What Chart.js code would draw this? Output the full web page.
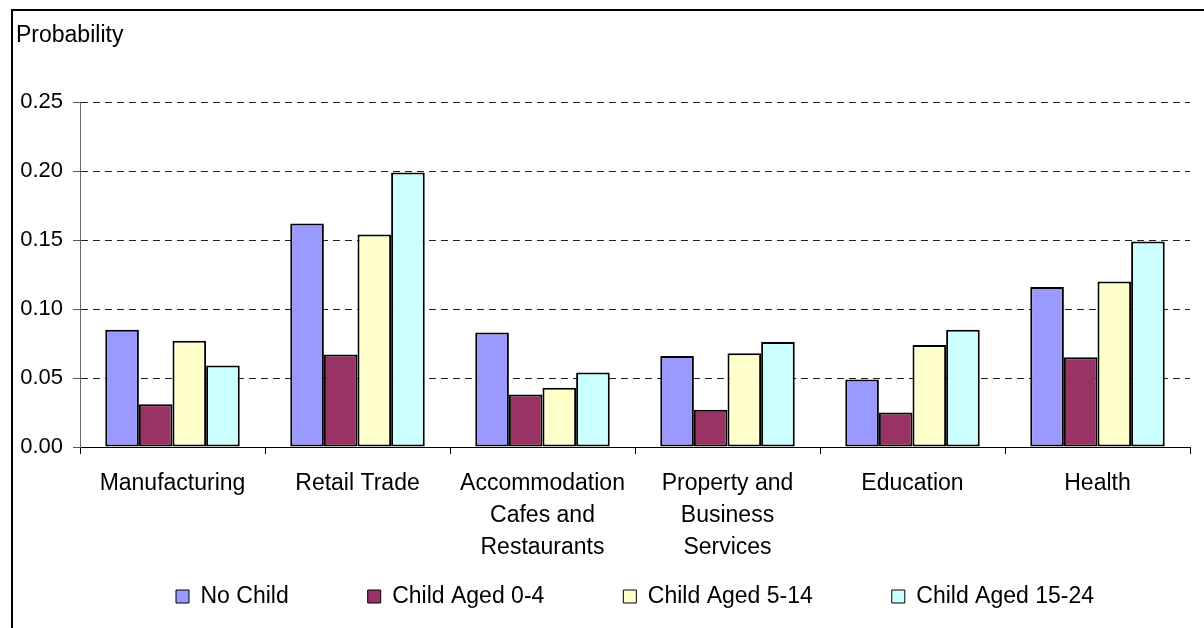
<!DOCTYPE html>
<html>
<head>
<meta charset="utf-8">
<script src="https://cdn.jsdelivr.net/npm/chart.js@4/dist/chart.umd.min.js"></script>
<style>
  html, body { margin: 0; padding: 0; background: #fff; overflow: hidden; }
  #wrap { position: relative; width: 1204px; height: 628px; }
</style>
</head>
<body>
<div id="wrap"><canvas id="c" width="1204" height="628"></canvas></div>
<script>
// Industries (multi-line labels) and probabilities by household type
const categories = [
  'Manufacturing',
  'Retail Trade',
  ['Accommodation', 'Cafes and', 'Restaurants'],
  ['Property and', 'Business', 'Services'],
  'Education',
  'Health'
];
const seriesNames = ['No Child', 'Child Aged 0-4', 'Child Aged 5-14', 'Child Aged 15-24'];
const noChild      = [0.085, 0.162, 0.083, 0.066, 0.049, 0.116];
const childAged0_4 = [0.031, 0.067, 0.038, 0.027, 0.025, 0.065];
const childAged5_14 = [0.077, 0.154, 0.043, 0.068, 0.074, 0.120];
const childAged15_24 = [0.059, 0.199, 0.054, 0.076, 0.085, 0.149];
const yTicks = [0, 0.05, 0.10, 0.15, 0.20, 0.25];
const yAxisTitle = 'Probability';

const fillColors = ['#9999FF', '#993366', '#FFFFCC', '#CCFFFF'];
const FONT = '"Liberation Sans", Arial, sans-serif';

// Frame around the whole chart and the axis caption in the top-left corner
const framePlugin = {
  id: 'frame',
  beforeDraw(chart) {
    const ctx = chart.ctx;
    ctx.save();
    ctx.fillStyle = '#fff';
    ctx.fillRect(0, 0, chart.width, chart.height);
    ctx.strokeStyle = '#000';
    ctx.lineWidth = 2;
    ctx.strokeRect(12, 10, 1400, 1000);
    ctx.restore();
  },
  afterDraw(chart) {
    const ctx = chart.ctx;
    ctx.save();
    ctx.fillStyle = '#000';
    ctx.font = '23px ' + FONT;
    ctx.textAlign = 'left';
    ctx.textBaseline = 'alphabetic';
    ctx.fillText(yAxisTitle, 16, 42);
    ctx.restore();
  }
};

// The legend uses wide label padding for horizontal spacing; keep its layout
// band short, then lift the box (and its clip area) back over the row.
const LEGEND_BAND = 54;
const LEGEND_LIFT = 59;
const legendBand = {
  id: 'legendBand',
  beforeLayout(chart) {
    const lg = chart.legend;
    if (lg && !lg.__bandFit) {
      const fit = lg.fit;
      lg.fit = function () { fit.call(this); this.height = LEGEND_BAND; };
      lg.__bandFit = true;
    }
  },
  afterLayout(chart) {
    const lg = chart.legend;
    if (lg) {
      lg.top -= LEGEND_LIFT;
      lg.bottom = chart.height;
      lg.height = lg.bottom - lg.top;
    }
  }
};

const seriesData = [noChild, childAged0_4, childAged5_14, childAged15_24];

new Chart(document.getElementById('c'), {
  type: 'bar',
  data: {
    labels: categories,
    datasets: seriesNames.map((name, i) => ({
      label: name,
      data: seriesData[i],
      backgroundColor: fillColors[i],
      borderColor: '#000',
      borderWidth: 2,
      borderSkipped: false,
      categoryPercentage: 0.727,
      barPercentage: 1.0
    }))
  },
  options: {
    responsive: false,
    animation: false,
    devicePixelRatio: 1,
    layout: { padding: { left: 0, right: 14, top: 102, bottom: 9 } },
    plugins: {
      tooltip: { enabled: false },
      legend: {
        position: 'bottom',
        fullSize: false,
        labels: {
          color: '#000',
          font: { family: FONT, size: 23 },
          boxWidth: 13,
          boxHeight: 13,
          padding: 79,
          generateLabels(chart) {
            const items = Chart.defaults.plugins.legend.labels.generateLabels(chart);
            items.forEach(it => { it.lineWidth = 1; it.strokeStyle = '#000'; });
            return items;
          }
        }
      }
    },
    scales: {
      x: {
        grid: {
          offset: true,
          drawOnChartArea: false,
          drawTicks: true,
          tickLength: 7,
          color: '#000'
        },
        border: { display: true, color: '#000', width: 1 },
        ticks: {
          color: '#000',
          padding: 14,
          maxRotation: 0,
          autoSkip: false,
          font: { family: FONT, size: 23, lineHeight: '32px' }
        },
        afterFit(scale) { scale.height = 118; }
      },
      y: {
        min: 0,
        max: 0.25,
        afterBuildTicks(scale) { scale.ticks = yTicks.map(v => ({ value: v })); },
        grid: {
          color: '#222',
          lineWidth: 1,
          tickLength: 7,
          tickColor: '#555',
          tickBorderDash: []
        },
        border: { display: true, color: '#666', width: 1, dash: [7, 5] },
        ticks: {
          color: '#000',
          padding: 10,
          font: { family: FONT, size: 22 },
          callback: v => Number(v).toFixed(2)
        },
        afterFit(scale) { scale.width = 80; }
      }
    }
  },
  plugins: [framePlugin, legendBand]
});
</script>
</body>
</html>
